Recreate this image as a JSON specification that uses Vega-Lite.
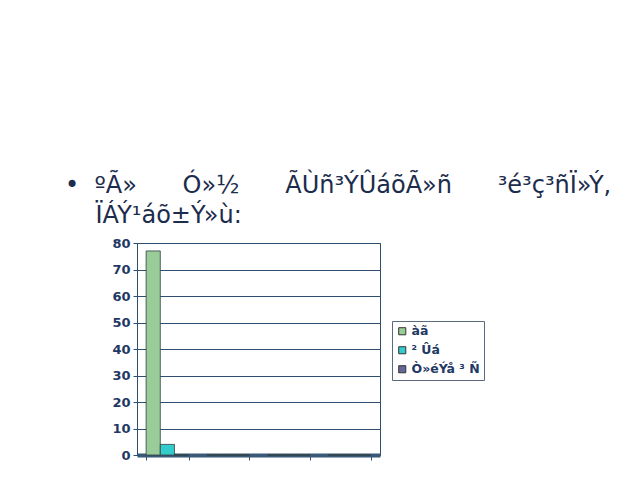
{
  "$schema": "https://vega.github.io/schema/vega-lite/v6.json",
  "autosize": {"type": "none"},
  "padding": {"left": 137, "top": 243, "right": 260, "bottom": 25},
  "width": 243,
  "height": 212,
  "background": "white",
  "title": {
    "text": [
      "•\u00a0\u00a0ºÃ»\u00a0\u00a0\u00a0\u00a0\u00a0\u00a0Ó»½\u00a0\u00a0\u00a0\u00a0\u00a0\u00a0ÃÙñ³ÝÛáõÃ»ñ\u00a0\u00a0\u00a0\u00a0\u00a0\u00a0³é³ç³ñÏ»Ý,",
      "\u200b\u00a0\u00a0\u00a0\u00a0ÏÁÝ¹áõ±Ý»ù:"
    ],
    "anchor": "start",
    "frame": "group",
    "dx": -72,
    "offset": 9,
    "font": "DejaVu Sans",
    "fontSize": 24,
    "fontWeight": "normal",
    "color": "#1c2c4c",
    "lineHeight": 30
  },
  "data": {
    "values": [
      {"cat": "1", "series": "àã", "value": 77},
      {"cat": "1", "series": "² Ûá", "value": 4},
      {"cat": "1", "series": "Ò»éÝå ³ Ñ", "value": 0},
      {"cat": "2", "series": "àã", "value": 0},
      {"cat": "2", "series": "² Ûá", "value": 0},
      {"cat": "2", "series": "Ò»éÝå ³ Ñ", "value": 0},
      {"cat": "3", "series": "àã", "value": 0},
      {"cat": "3", "series": "² Ûá", "value": 0},
      {"cat": "3", "series": "Ò»éÝå ³ Ñ", "value": 0},
      {"cat": "4", "series": "àã", "value": 0},
      {"cat": "4", "series": "² Ûá", "value": 0},
      {"cat": "4", "series": "Ò»éÝå ³ Ñ", "value": 0}
    ]
  },
  "mark": {"type": "bar", "stroke": "#2f3f3f", "strokeWidth": 0.8},
  "encoding": {
    "x": {
      "field": "cat",
      "type": "nominal",
      "scale": {"paddingInner": 0.3, "paddingOuter": 0.15},
      "axis": {
        "title": null,
        "labels": false,
        "ticks": true,
        "tickBand": "extent",
        "tickSize": 5,
        "tickColor": "#2f4f6f",
        "domainColor": "#3a5878",
        "domainWidth": 4
      }
    },
    "xOffset": {
      "field": "series",
      "type": "nominal",
      "sort": ["àã", "² Ûá", "Ò»éÝå ³ Ñ"],
      "scale": {"paddingInner": 0}
    },
    "y": {
      "field": "value",
      "type": "quantitative",
      "scale": {"domain": [0, 80]},
      "axis": {
        "title": null,
        "values": [0, 10, 20, 30, 40, 50, 60, 70, 80],
        "grid": true,
        "gridColor": "#2f4f72",
        "domainColor": "#2f4f72",
        "tickColor": "#2f4f72",
        "tickSize": 4,
        "labelFont": "DejaVu Sans",
        "labelFontWeight": "bold",
        "labelFontSize": 13,
        "labelColor": "#1f3864",
        "labelPadding": 3
      }
    },
    "color": {
      "field": "series",
      "type": "nominal",
      "sort": ["àã", "² Ûá", "Ò»éÝå ³ Ñ"],
      "scale": {
        "domain": ["àã", "² Ûá", "Ò»éÝå ³ Ñ"],
        "range": ["#99cc99", "#33cccc", "#666699"]
      },
      "legend": {
        "orient": "none",
        "legendX": 255,
        "legendY": 78,
        "title": null,
        "strokeColor": "#5a6a80",
        "fillColor": "white",
        "padding": 4,
        "symbolType": "square",
        "symbolSize": 50,
        "symbolStrokeColor": "#333333",
        "symbolStrokeWidth": 1,
        "labelOffset": 3,
        "labelFont": "DejaVu Sans",
        "labelFontWeight": "bold",
        "labelFontSize": 12.5,
        "labelColor": "#1f3864",
        "rowPadding": 6
      }
    }
  },
  "config": {
    "view": {"stroke": "#2f4f72", "strokeWidth": 1}
  }
}
